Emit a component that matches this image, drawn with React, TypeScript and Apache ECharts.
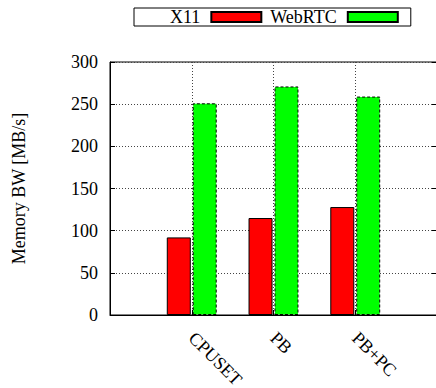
import React, { useEffect, useRef } from "react";
import * as echarts from "echarts";

// Measured memory bandwidth per configuration
const categories = ["CPUSET", "PB", "PB+PC"];
const x11Values = [92, 115, 128];
const webrtcValues = [251, 271, 259];
const yTicks = { min: 0, max: 300, interval: 50 };

const FONT = "'Liberation Serif', 'Times New Roman', serif";
const FONT_SIZE = 18;

// The x range runs one slot past each end, like a padded category range
const pad = <T,>(arr: T[], fill: T): T[] => [fill, ...arr, fill];

export default function App() {
  const ref = useRef<HTMLDivElement>(null);

  useEffect(() => {
    if (!ref.current) return;
    const chart = echarts.init(ref.current, null, { renderer: "svg" });
    const axisData = pad(categories, "");
    const text = { fontFamily: FONT, fontSize: FONT_SIZE, color: "#000" };
    chart.setOption({
      animation: false,
      backgroundColor: "#fff",
      textStyle: { fontFamily: FONT },
      legend: {
        orient: "horizontal",
        left: 134,
        top: 8,
        width: 290,
        padding: [0, 12, 0, 36],
        align: "right",
        itemWidth: 50,
        itemHeight: 10,
        itemGap: 8,
        borderColor: "#000",
        borderWidth: 1,
        borderRadius: 0,
        icon: "rect",
        textStyle: { ...text, padding: [0, 6, 0, 0] },
        data: ["X11", "WebRTC"],
      },
      grid: {
        left: 110,
        top: 62,
        width: 327,
        height: 253,
        show: true,
        borderColor: "#000",
        borderWidth: 1,
        containLabel: false,
        outerBoundsMode: "none",
      },
      xAxis: {
        type: "category",
        data: axisData,
        boundaryGap: false,
        axisLine: { show: true, lineStyle: { color: "#000", width: 1 } },
        axisTick: { show: true, inside: true, length: 5, lineStyle: { color: "#000" } },
        axisLabel: { ...text, rotate: -45, margin: 20, interval: 0 },
        splitLine: {
          show: true,
          lineStyle: { color: "#444", width: 1, type: [1, 2] },
        },
      },
      yAxis: [
        {
          type: "value",
          min: yTicks.min,
          max: yTicks.max,
          interval: yTicks.interval,
          name: "Memory BW [MB/s]",
          nameLocation: "middle",
          nameGap: 82,
          nameRotate: 90,
          nameTextStyle: text,
          axisLine: { show: true, lineStyle: { color: "#000", width: 1 } },
          axisTick: { show: true, inside: true, length: 5, lineStyle: { color: "#000" } },
          axisLabel: { ...text, margin: 12 },
          splitLine: {
            show: true,
            lineStyle: { color: "#444", width: 1, type: [1, 2] },
          },
        },
        {
          type: "value",
          position: "right",
          min: yTicks.min,
          max: yTicks.max,
          interval: yTicks.interval,
          axisLine: { show: false },
          axisTick: { show: true, inside: true, length: 5, lineStyle: { color: "#000" } },
          axisLabel: { show: false },
          splitLine: { show: false },
        },
      ],
      series: [
        {
          name: "X11",
          type: "bar",
          data: pad<number | string>(x11Values, "-"),
          barWidth: 24,
          barGap: "8%",
          itemStyle: { color: "#ff0000", borderColor: "#000", borderWidth: 1 },
        },
        {
          name: "WebRTC",
          type: "bar",
          data: pad<number | string>(webrtcValues, "-"),
          barWidth: 24,
          barGap: "8%",
          itemStyle: {
            color: "#00ff00",
            borderColor: "#000",
            borderWidth: 1,
            borderType: [3, 2],
          },
        },
      ],
    });
    return () => chart.dispose();
  }, []);

  return (
    <div
      ref={ref}
      style={{ position: "fixed", left: 0, top: 0, width: 436, height: 388 }}
    />
  );
}
